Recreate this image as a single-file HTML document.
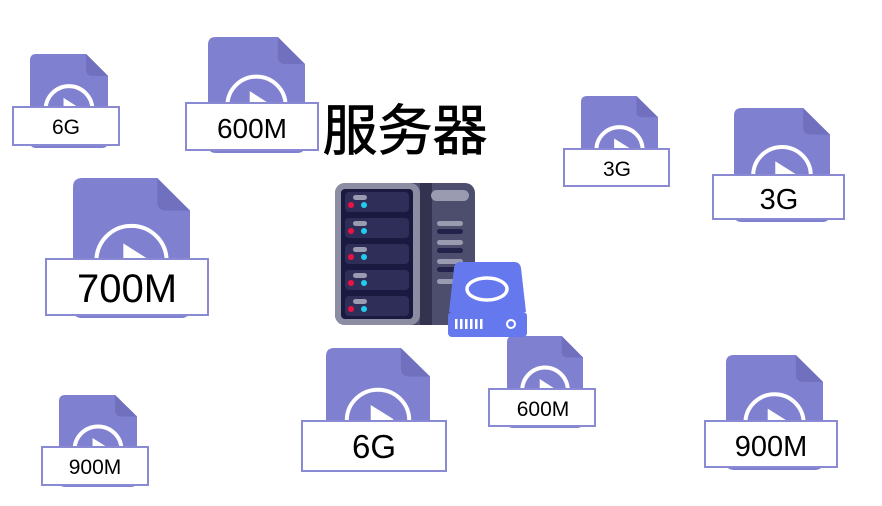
<!DOCTYPE html>
<html><head><meta charset="utf-8"><style>
html,body{margin:0;padding:0;background:#fff;width:882px;height:506px;overflow:hidden}
svg{display:block}
text{font-family:"Liberation Sans","Noto Sans CJK SC",sans-serif;fill:#000}
</style></head><body>
<svg width="882" height="506" viewBox="0 0 882 506" xmlns="http://www.w3.org/2000/svg">
<g id="icons">
<g transform="translate(30,54) scale(0.78,0.783)">
<path d="M8,0 H72 L100,28 V112 Q100,120 92,120 H8 Q0,120 0,112 V8 Q0,0 8,0 Z" fill="#8080d0"/>
<path d="M72,0 V20 Q72,28 80,28 H100 Z" fill="#7070bf"/>
<ellipse cx="50" cy="71" rx="30" ry="30" fill="none" stroke="#fff" stroke-width="4" vector-effect="non-scaling-stroke"/>
<path d="M43,56 L65,70 L43,84 Z" fill="#fff"/>
</g>
<rect x="13" y="107" width="106" height="38" fill="#fff" stroke="#8a8ad4" stroke-width="2"/>
<text x="66" y="134" font-size="21" text-anchor="middle">6G</text>

<g transform="translate(208,37) scale(0.97,0.967)">
<path d="M8,0 H72 L100,28 V112 Q100,120 92,120 H8 Q0,120 0,112 V8 Q0,0 8,0 Z" fill="#8080d0"/>
<path d="M72,0 V20 Q72,28 80,28 H100 Z" fill="#7070bf"/>
<ellipse cx="50" cy="71" rx="30" ry="30" fill="none" stroke="#fff" stroke-width="4" vector-effect="non-scaling-stroke"/>
<path d="M43,56 L65,70 L43,84 Z" fill="#fff"/>
</g>
<rect x="186" y="103" width="132" height="47" fill="#fff" stroke="#8a8ad4" stroke-width="2"/>
<text x="252" y="138" font-size="28" text-anchor="middle">600M</text>

<g transform="translate(73,178) scale(1.17,1.167)">
<path d="M8,0 H72 L100,28 V112 Q100,120 92,120 H8 Q0,120 0,112 V8 Q0,0 8,0 Z" fill="#8080d0"/>
<path d="M72,0 V20 Q72,28 80,28 H100 Z" fill="#7070bf"/>
<ellipse cx="50" cy="71" rx="30" ry="30" fill="none" stroke="#fff" stroke-width="4" vector-effect="non-scaling-stroke"/>
<path d="M43,56 L65,70 L43,84 Z" fill="#fff"/>
</g>
<rect x="46" y="259" width="162" height="56" fill="#fff" stroke="#8a8ad4" stroke-width="2"/>
<text x="127" y="302" font-size="40" text-anchor="middle">700M</text>

<g transform="translate(59,395) scale(0.78,0.767)">
<path d="M8,0 H72 L100,28 V112 Q100,120 92,120 H8 Q0,120 0,112 V8 Q0,0 8,0 Z" fill="#8080d0"/>
<path d="M72,0 V20 Q72,28 80,28 H100 Z" fill="#7070bf"/>
<ellipse cx="50" cy="71" rx="30" ry="30" fill="none" stroke="#fff" stroke-width="4" vector-effect="non-scaling-stroke"/>
<path d="M43,56 L65,70 L43,84 Z" fill="#fff"/>
</g>
<rect x="42" y="447" width="106" height="38" fill="#fff" stroke="#8a8ad4" stroke-width="2"/>
<text x="95" y="474" font-size="21" text-anchor="middle">900M</text>

<g transform="translate(326,348) scale(1.04,1.017)">
<path d="M8,0 H72 L100,28 V112 Q100,120 92,120 H8 Q0,120 0,112 V8 Q0,0 8,0 Z" fill="#8080d0"/>
<path d="M72,0 V20 Q72,28 80,28 H100 Z" fill="#7070bf"/>
<ellipse cx="50" cy="71" rx="30" ry="30" fill="none" stroke="#fff" stroke-width="4" vector-effect="non-scaling-stroke"/>
<path d="M43,56 L65,70 L43,84 Z" fill="#fff"/>
</g>
<rect x="302" y="421" width="144" height="50" fill="#fff" stroke="#8a8ad4" stroke-width="2"/>
<text x="374" y="458" font-size="33" text-anchor="middle">6G</text>

<g transform="translate(507,336) scale(0.76,0.767)">
<path d="M8,0 H72 L100,28 V112 Q100,120 92,120 H8 Q0,120 0,112 V8 Q0,0 8,0 Z" fill="#8080d0"/>
<path d="M72,0 V20 Q72,28 80,28 H100 Z" fill="#7070bf"/>
<ellipse cx="50" cy="71" rx="30" ry="30" fill="none" stroke="#fff" stroke-width="4" vector-effect="non-scaling-stroke"/>
<path d="M43,56 L65,70 L43,84 Z" fill="#fff"/>
</g>
<rect x="489" y="389" width="106" height="37" fill="#fff" stroke="#8a8ad4" stroke-width="2"/>
<text x="543" y="416" font-size="21" text-anchor="middle">600M</text>

<g transform="translate(581,96) scale(0.77,0.758)">
<path d="M8,0 H72 L100,28 V112 Q100,120 92,120 H8 Q0,120 0,112 V8 Q0,0 8,0 Z" fill="#8080d0"/>
<path d="M72,0 V20 Q72,28 80,28 H100 Z" fill="#7070bf"/>
<ellipse cx="50" cy="71" rx="30" ry="30" fill="none" stroke="#fff" stroke-width="4" vector-effect="non-scaling-stroke"/>
<path d="M43,56 L65,70 L43,84 Z" fill="#fff"/>
</g>
<rect x="564" y="149" width="105" height="37" fill="#fff" stroke="#8a8ad4" stroke-width="2"/>
<text x="617" y="176" font-size="21" text-anchor="middle">3G</text>

<g transform="translate(734,108) scale(0.96,0.95)">
<path d="M8,0 H72 L100,28 V112 Q100,120 92,120 H8 Q0,120 0,112 V8 Q0,0 8,0 Z" fill="#8080d0"/>
<path d="M72,0 V20 Q72,28 80,28 H100 Z" fill="#7070bf"/>
<ellipse cx="50" cy="71" rx="30" ry="30" fill="none" stroke="#fff" stroke-width="4" vector-effect="non-scaling-stroke"/>
<path d="M43,56 L65,70 L43,84 Z" fill="#fff"/>
</g>
<rect x="713" y="175" width="131" height="44" fill="#fff" stroke="#8a8ad4" stroke-width="2"/>
<text x="779" y="209" font-size="29" text-anchor="middle">3G</text>

<g transform="translate(726,355) scale(0.97,0.958)">
<path d="M8,0 H72 L100,28 V112 Q100,120 92,120 H8 Q0,120 0,112 V8 Q0,0 8,0 Z" fill="#8080d0"/>
<path d="M72,0 V20 Q72,28 80,28 H100 Z" fill="#7070bf"/>
<ellipse cx="50" cy="71" rx="30" ry="30" fill="none" stroke="#fff" stroke-width="4" vector-effect="non-scaling-stroke"/>
<path d="M43,56 L65,70 L43,84 Z" fill="#fff"/>
</g>
<rect x="705" y="421" width="132" height="46" fill="#fff" stroke="#8a8ad4" stroke-width="2"/>
<text x="771" y="456" font-size="29" text-anchor="middle">900M</text>
</g>

<text x="405" y="150" font-size="55" text-anchor="middle" stroke="#000" stroke-width="0.8" style="font-family:'Noto Sans CJK SC',sans-serif">服务器</text>

<rect x="335" y="183" width="140" height="142" rx="10" fill="#4d4d6e"/>
<rect x="335" y="183" width="85" height="142" rx="10" fill="#8c8ca2"/>
<rect x="420" y="183" width="12" height="142" fill="#33334f"/>
<rect x="341" y="189" width="72" height="130" rx="4" fill="#1a1a40"/>
<g fill="#2e2e58">
<rect x="345" y="192" width="64" height="20" rx="4"/>
<rect x="345" y="218" width="64" height="20" rx="4"/>
<rect x="345" y="244" width="64" height="20" rx="4"/>
<rect x="345" y="270" width="64" height="20" rx="4"/>
<rect x="345" y="296" width="64" height="20" rx="4"/>
</g>
<g fill="#9a9ab0">
<rect x="353" y="195" width="14" height="5" rx="2.5"/>
<rect x="353" y="221" width="14" height="5" rx="2.5"/>
<rect x="353" y="247" width="14" height="5" rx="2.5"/>
<rect x="353" y="273" width="14" height="5" rx="2.5"/>
<rect x="353" y="299" width="14" height="5" rx="2.5"/>
</g>
<g fill="#ee1144">
<circle cx="351" cy="205" r="3"/><circle cx="351" cy="231" r="3"/><circle cx="351" cy="257" r="3"/><circle cx="351" cy="283" r="3"/><circle cx="351" cy="309" r="3"/>
</g>
<g fill="#22ccee">
<circle cx="364" cy="205" r="3"/><circle cx="364" cy="231" r="3"/><circle cx="364" cy="257" r="3"/><circle cx="364" cy="283" r="3"/><circle cx="364" cy="309" r="3"/>
</g>
<g fill="#9a9ab0">
<rect x="431" y="190" width="38" height="11" rx="5.5"/>
<rect x="437" y="221" width="26" height="5" rx="2.5"/>
<rect x="437" y="240" width="26" height="5" rx="2.5"/>
<rect x="437" y="259" width="26" height="5" rx="2.5"/>
<rect x="437" y="279" width="26" height="5" rx="2.5"/>
</g>
<g fill="#22224a">
<rect x="437" y="229" width="26" height="5" rx="2.5"/>
<rect x="437" y="248" width="26" height="5" rx="2.5"/>
<rect x="437" y="267" width="26" height="5" rx="2.5"/>
</g>
<path d="M460,262 H514 Q520,262 521,268 L526,312 H449 L454,268 Q455,262 460,262 Z" fill="#6678ee"/>
<ellipse cx="487" cy="289" rx="20" ry="11" fill="none" stroke="#fff" stroke-width="3.5"/>
<rect x="448" y="312" width="79" height="25" rx="4" fill="#6678ee"/>
<g fill="#fff">
<rect x="455" y="319" width="2.5" height="10"/><rect x="460" y="319" width="2.5" height="10"/><rect x="465" y="319" width="2.5" height="10"/><rect x="470" y="319" width="2.5" height="10"/><rect x="475" y="319" width="2.5" height="10"/><rect x="480" y="319" width="2.5" height="10"/>
</g>
<circle cx="511" cy="324" r="4" fill="none" stroke="#fff" stroke-width="2"/>
</svg>
</body></html>
